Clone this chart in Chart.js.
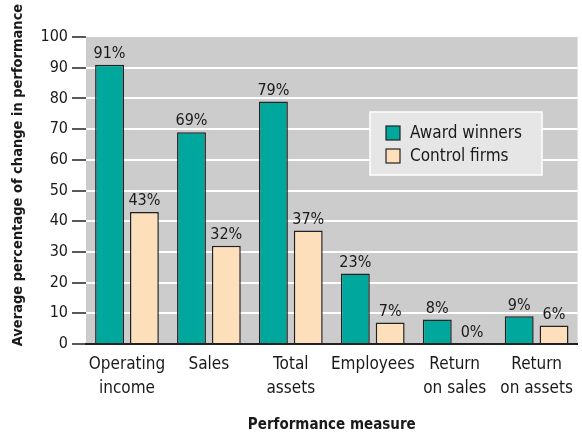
<!DOCTYPE html>
<html>
<head>
<meta charset="utf-8">
<script src="https://cdn.jsdelivr.net/npm/chart.js@4"></script>
<style>
  html, body { margin: 0; padding: 0; background: #ffffff; }
  #wrap { width: 582px; height: 434px; }
</style>
</head>
<body>
<div id="wrap"><canvas id="grafica"></canvas></div>
<script>
// ==============================
// DATOS
// ==============================
const categorias = [
  ["Operating", "income"],
  "Sales",
  ["Total", "assets"],
  "Employees",
  ["Return", "on sales"],
  ["Return", "on assets"]
];
const premiados = [91, 69, 79, 23, 8, 9];
const control = [43, 32, 37, 7, 0, 6];
const ticksY = [0, 10, 20, 30, 40, 50, 60, 70, 80, 90, 100];

const FUENTE = "'Liberation Sans Narrow', 'DejaVu Sans Condensed', 'Arial Narrow', sans-serif";

// ==============================
// PLUGINS
// ==============================
const fondoPlot = {
  id: "fondoPlot",
  beforeDraw(chart) {
    const { ctx, chartArea: a } = chart;
    ctx.save();
    ctx.fillStyle = "#cccccc";
    ctx.fillRect(a.left, a.top, a.right - a.left, a.bottom - a.top);
    ctx.restore();
  }
};

// titulo del eje Y dibujado a mano (centrado como en el original)
const tituloY = {
  id: "tituloY",
  afterDraw(chart) {
    const ctx = chart.ctx;
    ctx.save();
    ctx.translate(18, 175);
    ctx.rotate(-Math.PI / 2);
    ctx.font = "bold 14.5px " + FUENTE;
    ctx.fillStyle = "#1a1a1a";
    ctx.textAlign = "center";
    ctx.textBaseline = "middle";
    ctx.fillText("Average percentage of change in performance", 0, 0);
    ctx.restore();
  }
};

const etiquetas = {
  id: "etiquetas",
  afterDatasetsDraw(chart) {
    const ctx = chart.ctx;
    ctx.save();
    ctx.font = "16px " + FUENTE;
    ctx.fillStyle = "#1a1a1a";
    ctx.textAlign = "center";
    ctx.textBaseline = "bottom";
    chart.data.datasets.forEach((ds, i) => {
      chart.getDatasetMeta(i).data.forEach((bar, j) => {
        ctx.fillText(ds.data[j] + "%", bar.x, bar.y - 3);
      });
    });
    ctx.restore();
  }
};

const leyenda = {
  id: "leyenda",
  afterDraw(chart) {
    const ctx = chart.ctx;
    const x = 370, y = 112, w = 172, h = 63;
    ctx.save();
    ctx.fillStyle = "#e6e6e6";
    ctx.fillRect(x, y, w, h);
    ctx.strokeStyle = "#ffffff";
    ctx.lineWidth = 1.5;
    ctx.strokeRect(x, y, w, h);
    ctx.font = "17px " + FUENTE;
    ctx.textBaseline = "middle";
    chart.data.datasets.forEach((ds, i) => {
      const yy = y + 21 + i * 23;
      ctx.fillStyle = ds.backgroundColor;
      ctx.fillRect(x + 16, yy - 7, 14, 14);
      ctx.strokeStyle = "#222222";
      ctx.lineWidth = 1.2;
      ctx.strokeRect(x + 16, yy - 7, 14, 14);
      ctx.fillStyle = "#1a1a1a";
      ctx.fillText(ds.label, x + 40, yy + 1);
    });
    ctx.restore();
  }
};

// ==============================
// GRAFICA
// ==============================
new Chart(document.getElementById("grafica"), {
  type: "bar",
  data: {
    labels: categorias,
    datasets: [
      {
        label: "Award winners",
        data: premiados,
        backgroundColor: "#00a79d",
        borderColor: "#222222",
        borderWidth: 1.5,
        borderSkipped: "bottom"
      },
      {
        label: "Control firms",
        data: control,
        backgroundColor: "#fddfbb",
        borderColor: "#222222",
        borderWidth: 1.5,
        borderSkipped: "bottom"
      }
    ]
  },
  options: {
    responsive: true,
    maintainAspectRatio: false,
    animation: false,
    layout: { padding: { top: 37, right: 1, left: 0, bottom: 0 } },
    categoryPercentage: 0.85,
    barPercentage: 0.83,
    plugins: {
      legend: { display: false },
      tooltip: { enabled: false }
    },
    scales: {
      x: {
        grid: { display: false, drawTicks: false },
        border: { display: true, color: "#222222", width: 2 },
        ticks: {
          color: "#1a1a1a",
          font: { family: FUENTE, size: 17, lineHeight: 1.4 },
          maxRotation: 0,
          autoSkip: false,
          padding: 9
        },
        title: {
          display: true,
          text: "Performance measure",
          color: "#1a1a1a",
          font: { family: FUENTE, size: 15, weight: "bold" },
          padding: { top: 8, bottom: 0 }
        },
        afterFit(scale) { scale.height = 90; }
      },
      y: {
        min: 0,
        max: 100,
        afterBuildTicks(scale) {
          scale.ticks = ticksY.map(v => ({ value: v }));
        },
        grid: {
          color: ctx => (ctx.tick && ctx.tick.value === 100 ? "rgba(0,0,0,0)" : "#ffffff"),
          lineWidth: 2,
          tickColor: "#222222",
          tickLength: 14,
          tickWidth: 1.5
        },
        border: { display: false },
        ticks: {
          color: "#1a1a1a",
          font: { family: FUENTE, size: 16 },
          padding: 4
        },
        title: { display: false },
        afterFit(scale) { scale.width = 86; }
      }
    }
  },
  plugins: [fondoPlot, etiquetas, leyenda, tituloY]
});
</script>
</body>
</html>
